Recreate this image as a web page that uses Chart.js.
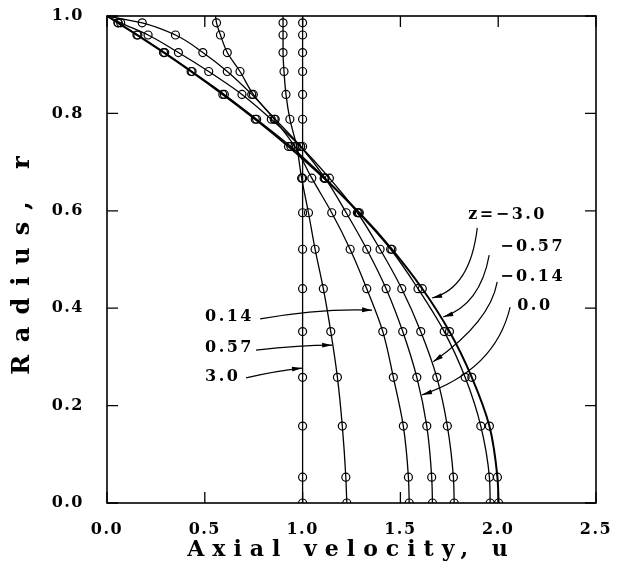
<!DOCTYPE html>
<html>
<head>
<meta charset="utf-8">
<script src="https://cdn.jsdelivr.net/npm/chart.js@4.4.1/dist/chart.umd.min.js"></script>
<style>
  html, body { margin: 0; padding: 0; background: #fff; }
  #wrap { width: 620px; height: 587px; }
</style>
</head>
<body>
<div id="wrap"><canvas id="profiles"></canvas></div>
<script>
// radial stations, shared by every profile
const radii = [0, 0.053, 0.158, 0.258, 0.352, 0.440, 0.521, 0.596, 0.667, 0.732, 0.788, 0.839, 0.886, 0.925, 0.961, 0.986, 1.0];

// axial velocity u (one value per radius)
const uZ3_0   = [1.0, 1.0, 1.0, 1.0, 1.0, 1.0, 1.0, 1.0, 1.0, 1.0, 1.0, 1.0, 1.0, 1.0, 1.0, 1.0, 1.0];
const uZ0_57  = [1.226, 1.221, 1.203, 1.178, 1.144, 1.106, 1.064, 1.030, 0.995, 0.970, 0.935, 0.915, 0.905, 0.900, 0.900, 0.900, 0.900];
const uZ0_14  = [1.545, 1.541, 1.515, 1.464, 1.410, 1.328, 1.243, 1.149, 1.047, 0.960, 0.855, 0.748, 0.680, 0.615, 0.580, 0.560, 0.555];
const uZ0_0   = [1.664, 1.660, 1.635, 1.584, 1.512, 1.427, 1.328, 1.223, 1.115, 0.990, 0.860, 0.740, 0.615, 0.490, 0.350, 0.180, 0.0];
const uZm0_14 = [1.775, 1.771, 1.740, 1.686, 1.604, 1.507, 1.396, 1.280, 1.137, 0.990, 0.840, 0.690, 0.520, 0.365, 0.210, 0.070, 0.0];
const uZm0_57 = [1.959, 1.955, 1.911, 1.831, 1.724, 1.590, 1.450, 1.285, 1.115, 0.940, 0.765, 0.600, 0.435, 0.295, 0.158, 0.057, 0.0];
const uZm3_0  = [2.002, 1.996, 1.955, 1.865, 1.751, 1.612, 1.457, 1.290, 1.110, 0.928, 0.758, 0.592, 0.430, 0.289, 0.153, 0.056, 0.0];

// axis ticks
const uTicks = [0.0, 0.5, 1.0, 1.5, 2.0, 2.5];
const rTicks = [0.0, 0.2, 0.4, 0.6, 0.8, 1.0];

// curve labels with their leader arrows (data units: [u, r])
const callouts = [
    { text: 'z=\u22123.0', at: [1.847, 0.591], path: [[1.893, 0.565], [1.857, 0.441], [1.662, 0.421]] },
    { text: '\u22120.57',  at: [2.010, 0.526], path: [[1.954, 0.509], [1.908, 0.407], [1.719, 0.382]] },
    { text: '\u22120.14',  at: [2.010, 0.465], path: [[1.995, 0.454], [1.959, 0.372], [1.668, 0.290]] },
    { text: '0.0',         at: [2.097, 0.405], path: [[2.061, 0.402], [1.985, 0.273], [1.611, 0.222]] },
    { text: '0.14',        at: [0.501, 0.382], path: [[0.783, 0.378], [1.090, 0.400], [1.355, 0.396]] },
    { text: '0.57',        at: [0.501, 0.318], path: [[0.762, 0.314], [0.987, 0.324], [1.151, 0.324]] },
    { text: '3.0',         at: [0.501, 0.259], path: [[0.711, 0.257], [0.859, 0.271], [0.997, 0.277]] }
];

const serif = "'DejaVu Serif', 'Liberation Serif', serif";

function profile(label, u, width) {
    return {
        label: label,
        data: radii.map(function (r, i) { return { x: u[i], y: r }; }),
        borderColor: '#000',
        borderWidth: width,
        pointStyle: 'circle',
        pointRadius: function (c) { return c.raw && c.raw.y >= 1 ? 0 : 4; },
        pointBorderWidth: 1.2,
        pointBorderColor: '#000',
        pointBackgroundColor: 'rgba(0,0,0,0)',
        cubicInterpolationMode: 'monotone',
        fill: false,
        clip: 0
    };
}

// letter spacing for axis titles (canvas has no css letter-spacing)
const spacedText = {
    id: 'spacedText',
    beforeDraw(chart, args, opts) {
        Object.values(chart.scales).forEach(function (s) {
            if (s._spaced) return;
            const orig = s.drawTitle;
            const gap = opts[s.id] || '0px';
            s.drawTitle = function () {
                this.ctx.save();
                this.ctx.letterSpacing = gap;
                orig.apply(this, arguments);
                this.ctx.restore();
            };
            s._spaced = true;
        });
        chart.ctx.letterSpacing = opts.ticks || '0px';
    }
};

// closed frame with inward tick marks on all four sides
const frameTicks = {
    id: 'frameTicks',
    afterDatasetsDraw(chart) {
        const ctx = chart.ctx, a = chart.chartArea;
        const x = chart.scales.x, y = chart.scales.y;
        const len = 11;
        ctx.save();
        ctx.strokeStyle = '#000';
        ctx.lineWidth = 1.6;
        ctx.strokeRect(a.left, a.top, a.right - a.left, a.bottom - a.top);
        ctx.lineWidth = 1.3;
        ctx.beginPath();
        x.ticks.forEach(function (t) {
            const px = x.getPixelForValue(t.value);
            ctx.moveTo(px, a.bottom); ctx.lineTo(px, a.bottom - len);
            ctx.moveTo(px, a.top); ctx.lineTo(px, a.top + len);
        });
        y.ticks.forEach(function (t) {
            const py = y.getPixelForValue(t.value);
            ctx.moveTo(a.left, py); ctx.lineTo(a.left + len, py);
            ctx.moveTo(a.right, py); ctx.lineTo(a.right - len, py);
        });
        ctx.stroke();
        ctx.restore();
    }
};

// z labels and curved arrows
const zCallouts = {
    id: 'zCallouts',
    afterDraw(chart) {
        const ctx = chart.ctx;
        const x = chart.scales.x, y = chart.scales.y;
        const P = function (p) { return [x.getPixelForValue(p[0]), y.getPixelForValue(p[1])]; };
        ctx.save();
        ctx.letterSpacing = '2.5px';
        ctx.font = 'bold 16px ' + serif;
        ctx.fillStyle = '#000';
        ctx.strokeStyle = '#000';
        ctx.lineWidth = 1.2;
        ctx.textAlign = 'left';
        ctx.textBaseline = 'middle';
        callouts.forEach(function (c) {
            const t = P(c.at);
            ctx.fillText(c.text, t[0], t[1]);
            const s = P(c.path[0]), k = P(c.path[1]), e = P(c.path[2]);
            ctx.beginPath();
            ctx.moveTo(s[0], s[1]);
            ctx.quadraticCurveTo(k[0], k[1], e[0], e[1]);
            ctx.stroke();
            // arrow head
            const ang = Math.atan2(e[1] - k[1], e[0] - k[0]);
            const hl = 10, hw = 2.4;
            const bx = e[0] - hl * Math.cos(ang), by = e[1] - hl * Math.sin(ang);
            ctx.beginPath();
            ctx.moveTo(e[0], e[1]);
            ctx.lineTo(bx + hw * Math.sin(ang), by - hw * Math.cos(ang));
            ctx.lineTo(bx - hw * Math.sin(ang), by + hw * Math.cos(ang));
            ctx.closePath();
            ctx.fill();
        });
        ctx.restore();
    }
};

const ctx = document.getElementById('profiles').getContext('2d');
const chart = new Chart(ctx, {
    type: 'line',
    data: {
        datasets: [
            profile('z=3.0', uZ3_0, 1.3),
            profile('z=0.57', uZ0_57, 1.3),
            profile('z=0.14', uZ0_14, 1.3),
            profile('z=0.0', uZ0_0, 1.3),
            profile('z=-0.14', uZm0_14, 1.3),
            profile('z=-0.57', uZm0_57, 1.3),
            profile('z=-3.0', uZm3_0, 2.0)
        ]
    },
    options: {
        indexAxis: 'y',
        responsive: true,
        maintainAspectRatio: false,
        animation: false,
        layout: { padding: { left: 0, right: 24, top: 16, bottom: 0 } },
        plugins: {
            legend: { display: false },
            tooltip: { enabled: false },
            spacedText: { x: '8px', y: '12px', ticks: '1.5px' }
        },
        scales: {
            x: {
                type: 'linear',
                position: 'bottom',
                min: 0,
                max: 2.5,
                afterBuildTicks: function (s) { s.ticks = uTicks.map(function (v) { return { value: v }; }); },
                afterFit: function (s) { s.height = 84; s.paddingLeft = 0; s.paddingRight = 0; },
                grid: { display: false, drawTicks: false },
                border: { display: false },
                ticks: {
                    color: '#000',
                    padding: 17,
                    maxRotation: 0,
                    font: { family: serif, size: 16, weight: 'bold' },
                    callback: function (v) { return Number(v).toFixed(1); }
                },
                title: {
                    display: true,
                    text: 'Axial velocity, u',
                    color: '#000',
                    padding: { top: 0, bottom: 24 },
                    font: { family: serif, size: 22, weight: 'bold' }
                }
            },
            y: {
                type: 'linear',
                position: 'left',
                min: 0,
                max: 1,
                afterBuildTicks: function (s) { s.ticks = rTicks.map(function (v) { return { value: v }; }); },
                afterFit: function (s) { s.width = 107; s.paddingTop = 0; s.paddingBottom = 0; },
                grid: { display: false, drawTicks: false },
                border: { display: false },
                ticks: {
                    color: '#000',
                    padding: 23,
                    font: { family: serif, size: 16, weight: 'bold' },
                    callback: function (v) { return Number(v).toFixed(1); }
                },
                title: {
                    display: true,
                    text: 'Radius, r',
                    color: '#000',
                    padding: { top: 8, bottom: 0 },
                    font: { family: serif, size: 24, weight: 'bold' }
                }
            }
        }
    },
    plugins: [spacedText, frameTicks, zCallouts]
});
</script>
</body>
</html>
